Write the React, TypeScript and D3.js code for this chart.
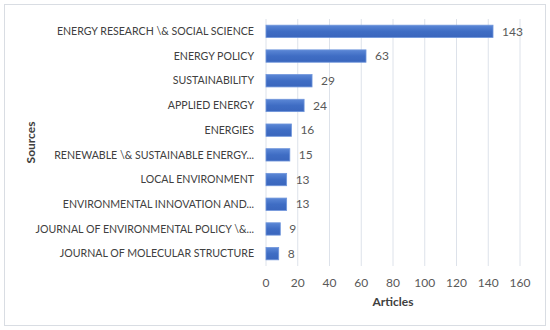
import React from 'react';
import * as d3 from 'd3';

const sources = [
  'ENERGY RESEARCH \\& SOCIAL SCIENCE',
  'ENERGY POLICY',
  'SUSTAINABILITY',
  'APPLIED ENERGY',
  'ENERGIES',
  'RENEWABLE \\& SUSTAINABLE ENERGY...',
  'LOCAL ENVIRONMENT',
  'ENVIRONMENTAL INNOVATION AND...',
  'JOURNAL OF ENVIRONMENTAL POLICY \\&...',
  'JOURNAL OF MOLECULAR STRUCTURE',
];
const articles = [143, 63, 29, 24, 16, 15, 13, 13, 9, 8];
const x_ticks = [0, 20, 40, 60, 80, 100, 120, 140, 160];

const W = 550;
const H = 330;
const margin = {top: 19, right: 30, bottom: 64, left: 266};
const font = 'Lato, "Open Sans", sans-serif';

export default function App() {
  const width = W - margin.left - margin.right;
  const height = H - margin.top - margin.bottom;

  const x = d3.scaleLinear().domain([0, 160]).range([0, width]);
  const y = d3.scaleBand().domain(sources).range([0, height]).paddingInner(0.5).paddingOuter(0.25);

  return (
    <svg width={W} height={H} style={{position: 'absolute', left: 0, top: 0, background: '#fff'}}>
      <defs>
        <linearGradient id='bar_grad' x1='0' y1='0' x2='0' y2='1'>
          <stop offset='0%' stopColor='#5b87d6' />
          <stop offset='50%' stopColor='#3f6dc4' />
          <stop offset='100%' stopColor='#3a66bd' />
        </linearGradient>
      </defs>
      <rect x={4.5} y={4.5} width={541} height={321} fill='#fff' stroke='#d9dde3' />
      <g transform={`translate(${margin.left},${margin.top})`}>
        {/* grid lines */}
        {x_ticks.map((t) => (
          <line key={t} x1={x(t)} x2={x(t)} y1={0} y2={height} stroke='#dde2ea' strokeWidth={1} />
        ))}
        {/* bars */}
        {sources.map((s, i) => (
          <g key={s}>
            <rect
              x={x(0)}
              y={y(s)}
              width={x(articles[i])}
              height={y.bandwidth()}
              fill='url(#bar_grad)'
              stroke='#6f95db'
              strokeWidth={0.8}
            />
            <text
              x={x(articles[i]) + 9}
              y={(y(s) || 0) + y.bandwidth() / 2}
              dy='0.35em'
              fontSize={12}
              fontFamily={font}
              fill='#595959'
            >
              {articles[i]}
            </text>
            <text
              x={-12}
              y={(y(s) || 0) + y.bandwidth() / 2}
              dy='0.35em'
              textAnchor='end'
              fontSize={10.6}
              fontFamily={font}
              fill='#404040'
            >
              {s}
            </text>
          </g>
        ))}
        {/* x tick labels */}
        {x_ticks.map((t) => (
          <text
            key={t}
            x={x(t)}
            y={height + 17}
            dy='0.35em'
            textAnchor='middle'
            fontSize={12}
            fontFamily={font}
            fill='#595959'
          >
            {t}
          </text>
        ))}
        <text
          x={width / 2}
          y={height + 36}
          dy='0.35em'
          textAnchor='middle'
          fontSize={12}
          fontWeight='bold'
          fontFamily={font}
          fill='#404040'
        >
          Articles
        </text>
      </g>
      <text
        transform={`translate(31,${margin.top + height / 2}) rotate(-90)`}
        textAnchor='middle'
        dy='0.35em'
        fontSize={12}
        fontWeight='bold'
        fontFamily={font}
        fill='#404040'
      >
        Sources
      </text>
    </svg>
  );
}
